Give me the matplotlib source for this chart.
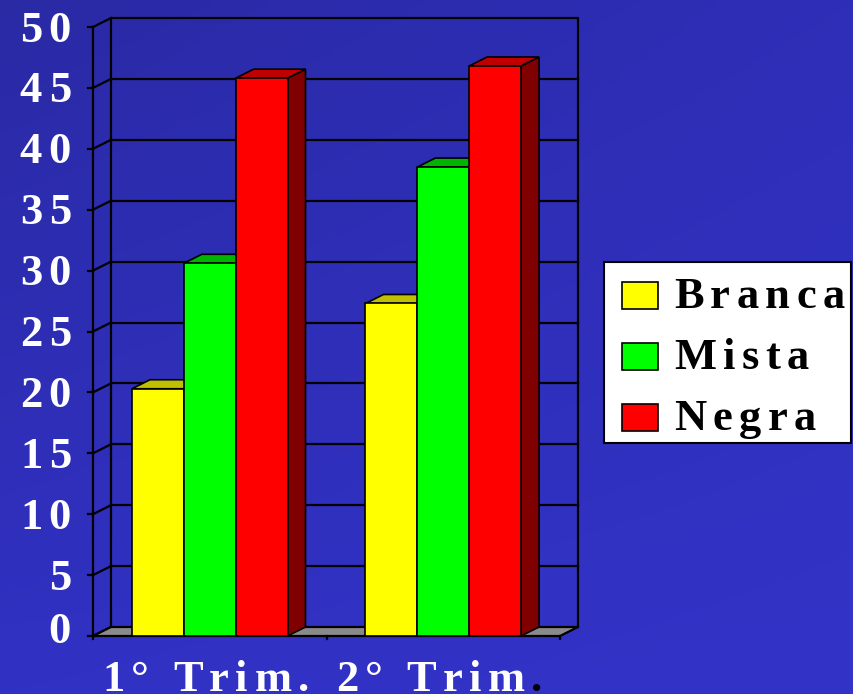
import numpy as np
import matplotlib
matplotlib.use("Agg")
import matplotlib.pyplot as plt
from matplotlib.patches import Polygon, Rectangle
from matplotlib.font_manager import FontProperties
from matplotlib.transforms import IdentityTransform

# dados
categorias = ["1° Trim.", "2° Trim."]
series = ["Branca", "Mista", "Negra"]
branca = [20.3, 27.3]
mista = [30.6, 38.5]
negra = [45.8, 46.8]
yticks = [0, 5, 10, 15, 20, 25, 30, 35, 40, 45, 50]

cores = ["#FFFF00", "#00FF00", "#FF0000"]
cores_topo = ["#C0C000", "#00B400", "#C00000"]
cores_lado = ["#808000", "#008000", "#800000"]

W, H = 854, 694
fig = plt.figure(figsize=(W / 100, H / 100), dpi=100)

# fundo em degradê
bg = fig.add_axes([0, 0, 1, 1], zorder=-10)
gx, gy = np.meshgrid(np.linspace(0, 1, 200), np.linspace(0, 1, 200))
tl = np.array([42, 42, 165]) / 255
tr = np.array([46, 46, 184]) / 255
bl = np.array([49, 49, 196]) / 255
br = np.array([51, 51, 200]) / 255
img = (tl * ((1 - gx) * (1 - gy))[..., None] + tr * (gx * (1 - gy))[..., None]
       + bl * ((1 - gx) * gy)[..., None] + br * (gx * gy)[..., None])
bg.imshow(img, extent=[0, 1, 0, 1], aspect="auto", origin="upper")
bg.axis("off")

# eixo principal (plano da frente)
ax = fig.add_axes([93 / W, (H - 636) / H, 467 / W, 609 / H])
ax.set_xlim(-0.5, 1.5)
ax.set_ylim(0, 50)
ax.axis("off")

px_x = 467 / 2
px_y = 609 / 50
DX = 18 / px_x
DY = 9 / px_y
lw = 1.6

x_esq, x_dir = -0.5, len(categorias) - 0.5

# parede do fundo e lateral
for g in yticks:
    if 0 < g < 50:
        ax.plot([x_esq + DX, x_dir + DX], [g + DY, g + DY], color="black", lw=lw, clip_on=False, zorder=1)
    ax.plot([x_esq, x_esq + DX], [g, g + DY], color="black", lw=lw, clip_on=False, zorder=1)
    ax.plot([x_esq - 5 / px_x, x_esq], [g, g], color="black", lw=lw, clip_on=False, zorder=1)
ax.plot([x_esq + DX, x_esq + DX, x_dir + DX, x_dir + DX], [DY, 50 + DY, 50 + DY, DY],
        color="black", lw=lw, clip_on=False, zorder=1)
ax.plot([x_esq, x_esq], [0, 50], color="black", lw=lw, clip_on=False, zorder=1)

# piso
piso = Polygon([(x_esq, 0), (x_dir, 0), (x_dir + DX, DY), (x_esq + DX, DY)],
               closed=True, facecolor="#8a8a8a", edgecolor="black", lw=lw, clip_on=False, zorder=2)
ax.add_patch(piso)
for k in range(len(categorias) + 1):
    ax.plot([x_esq + k, x_esq + k], [0, -3 / px_y], color="black", lw=lw, clip_on=False, zorder=2)

# barras 3D
w = 0.222
gap = (1 - 3 * w) / 2
dados = [branca, mista, negra]
z = 3
for i in range(len(categorias)):
    for j, vals in enumerate(dados):
        v = vals[i]
        x0 = i - 0.5 + gap + j * w
        frente = Polygon([(x0, 0), (x0 + w, 0), (x0 + w, v), (x0, v)], closed=True,
                         facecolor=cores[j], edgecolor="black", lw=1.2, clip_on=False, zorder=z)
        topo = Polygon([(x0, v), (x0 + w, v), (x0 + w + DX, v + DY), (x0 + DX, v + DY)], closed=True,
                       facecolor=cores_topo[j], edgecolor="black", lw=1.2, clip_on=False, zorder=z)
        lado = Polygon([(x0 + w, 0), (x0 + w + DX, DY), (x0 + w + DX, v + DY), (x0 + w, v)], closed=True,
                       facecolor=cores_lado[j], edgecolor="black", lw=1.2, clip_on=False, zorder=z)
        for p in (lado, topo, frente):
            ax.add_patch(p)
        z += 1

# texto com espaçamento entre letras
prop = FontProperties(family="Liberation Serif", weight="bold", size=32)
renderer = fig.canvas.get_renderer()
w_ref = renderer.get_text_width_height_descent("||", prop, ismath=False)[0]


def avanco(ch):
    return renderer.get_text_width_height_descent("|" + ch + "|", prop, ismath=False)[0] - w_ref


def texto_espacado(x, y, s, cor, track=6.5, ha="left"):
    avs = [avanco(c) for c in s]
    total = sum(avs) + track * (len(s) - 1)
    if ha == "right":
        x -= total
    elif ha == "center":
        x -= total / 2
    if isinstance(cor, str):
        cor = [cor] * len(s)
    for c, a, col in zip(s, avs, cor):
        fig.text(x, y, c, fontproperties=prop, color=col, transform=IdentityTransform(),
                 ha="left", va="baseline")
        x += a + track


# rótulos do eixo y
for g in yticks:
    _, yd = ax.transData.transform((x_esq, g))
    off = 7 if g == 0 else 14.5
    texto_espacado(71, yd - off, str(g), "white", ha="right")

# rótulos das categorias
for i, cat in enumerate(categorias):
    xd, yd = ax.transData.transform((i, 0))
    cor = ["white"] * len(cat)
    if i == len(categorias) - 1:
        cor[-1] = "black"
    texto_espacado(xd - 4, 3, cat, cor, ha="center")

# legenda
fig.add_artist(Rectangle((604, H - 443), 247, 181, facecolor="white", edgecolor="black",
                         lw=1.5, transform=IdentityTransform()))
topos = [282, 343, 404]
for nome, cor, yt in zip(series, cores, topos):
    fig.add_artist(Rectangle((622, H - yt - 27), 36, 27, facecolor=cor, edgecolor="black",
                             lw=1.2, transform=IdentityTransform()))
    texto_espacado(674, H - yt - 26, nome, "black")

fig.savefig("out.png", dpi=100)
